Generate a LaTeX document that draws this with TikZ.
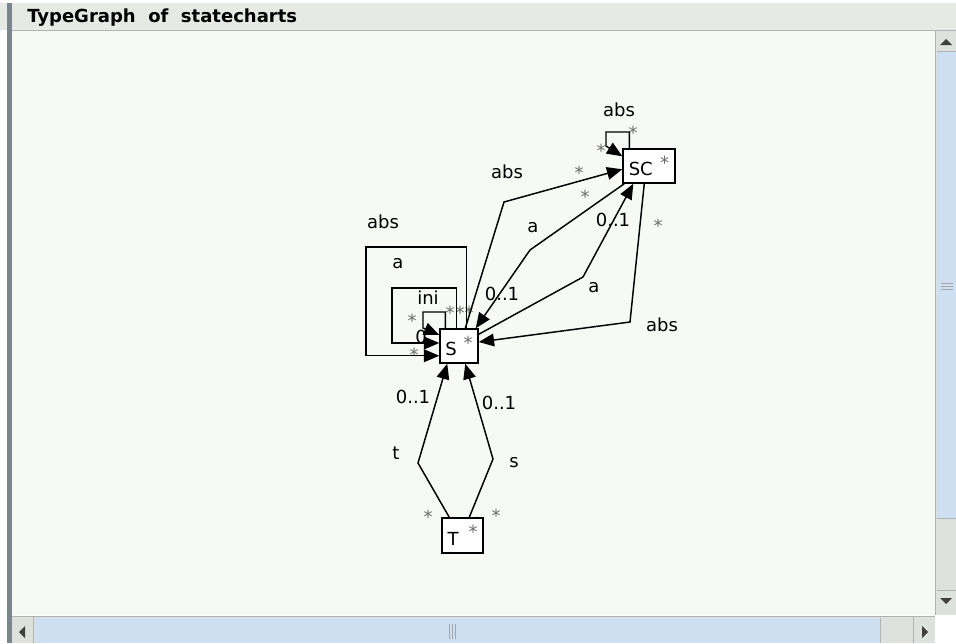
\documentclass[tikz,border=0pt]{standalone}
\usepackage{fontspec}
\setmainfont{DejaVu Sans}
\usetikzlibrary{arrows.meta,calc}
\definecolor{canvas}{HTML}{F7F9F5}
\definecolor{barbg}{HTML}{E6E9E4}
\definecolor{frameln}{HTML}{7B858E}
\definecolor{thumb}{HTML}{CDDFF0}
\definecolor{track}{HTML}{DDE2DF}
\definecolor{mult}{HTML}{6A6A6A}
\newcommand{\clsname}[2]{#1\hspace{#2}\raisebox{5pt}{\textcolor{mult}{*}}}

\begin{document}
\begin{tikzpicture}[x=0.75pt, y=-0.75pt, >={Triangle[length=11.5pt,width=9.5pt]},
  font=\fontsize{13.5}{16}\selectfont,
  cls/.style={draw, line width=1.1pt, fill=white, inner sep=0pt, minimum height=25.5pt},
  edge/.style={->, line width=1.1pt},
  lab/.style={inner sep=0pt},
  mul/.style={inner sep=0pt, text=mult, yshift=-2.8pt},
  chrome/.style={draw=gray!60, line width=0.6pt}]
\useasboundingbox (0,0) rectangle (956,643);

% window frame
\fill[white] (0,0) rectangle (956,643);
\fill[barbg] (0,3) rectangle (956,30);
\fill[canvas] (12,31) rectangle (935,615);
\draw[chrome] (12,30.5) -- (956,30.5);
\fill[frameln] (7,3) rectangle (11.5,643);
\node[font=\bfseries\fontsize{13.5}{16}\selectfont, anchor=base west, inner sep=0pt] (title) at (27,22) {TypeGraph\ \ of\ \ statecharts};

% scroll bars
\fill[track] (935,31) rectangle (956,615);
\draw[chrome] (935,31) -- (935,615);
\fill[thumb] (937,51) rectangle (956,518);
\draw[chrome] (937,51) -- (956,51) (937,518) -- (956,518) (937,590) -- (956,590);
\draw[gray!70] (941,283) -- (953,283) (941,286) -- (953,286) (941,289) -- (953,289);
\fill[black!75] (940,45) -- (952,45) -- (946,39) -- cycle;
\fill[black!75] (940,598) -- (952,598) -- (946,604) -- cycle;
\fill[track] (12,616) rectangle (935,643);
\draw[chrome] (12,616) -- (935,616);
\fill[thumb] (35,618) rectangle (880,643);
\draw[chrome] (33,616) -- (33,643) (880,618) -- (880,643) (913,616) -- (913,643);
\draw[gray!70] (449,624) -- (449,639) (452,624) -- (452,639) (455,624) -- (455,639);
\fill[black!75] (25,626) -- (25,638) -- (19,632) -- cycle;
\fill[black!75] (922,626) -- (922,638) -- (928,632) -- cycle;

% classes
\node[cls, minimum width=28.5pt] (S) at (459,346) {\clsname{S}{5pt}};
\node[cls, minimum width=39pt] (SC) at (649,166) {\clsname{SC}{5.6pt}};
\node[cls, minimum width=30.75pt, minimum height=26.25pt] (T) at (462.5,535.5) {\clsname{T}{7.5pt}};

% bend points
\coordinate (b1) at (504,202);
\coordinate (b2) at (530,250);
\coordinate (b3) at (583,277);
\coordinate (b4) at (630,322);
\coordinate (b5) at (418,463);
\coordinate (b6) at (493,459);

% edge labels
\node[lab] (l1) at (619,110) {abs};
\node[lab] (l2) at (507,172) {abs};
\node[lab] (l3) at (533,228) {a};
\node[lab] (l4) at (613,220) {0..1};
\node[lab] (l5) at (502,294) {0..1};
\node[lab] (l6) at (594,288) {a};
\node[lab] (l7) at (662,325) {abs};
\node[lab] (l8) at (383,222) {abs};
\node[lab] (l9) at (398,264) {a};
\node[lab] (l10) at (428,298) {ini};
\node[lab] (l11) at (421,337) {0};
\node[lab] (l12) at (413,397) {0..1};
\node[lab] (l13) at (396,453) {t};
\node[lab] (l14) at (499,403) {0..1};
\node[lab] (l15) at (514,463) {s};
\foreach \p [count=\i] in {(633,129),(601,147),(579,169),(585,193),(658,222),
    (450,309),(460,309),(469,309),(412,317),(414,351),(428,513),(496,512)}
  \node[mul] (m\i) at \p {*};

% edges around SC
\draw[edge] ($(SC.north west)+(7,0)$) |- (606,132) -- (606,146) -- ($(SC.north west)+(0,8)$);
\draw[edge] ($(S.north west)+(26,0)$) -- (b1) -- ($(SC.north west)+(0,21)$);
\draw[edge] ($(SC.south west)+(2,0)$) -- (b2) -- ($(S.north east)+(-3,0)$);
\draw[edge] ($(S.north east)+(0,6)$) -- (b3) -- ($(SC.south west)+(11,0)$);
\draw[edge] ($(SC.south west)+(22,0)$) -- (b4) -- ($(S.east)+(0,-4)$);

% loops on S
\draw[edge] ($(S.north west)+(27,0)$) |- (366,247) |- ($(S.south west)+(0,-8)$);
\draw[edge] ($(S.north west)+(17,0)$) |- (392,288) |- ($(S.west)+(0,-3)$);
\draw[edge] ($(S.north west)+(6,0)$) |- (423,312) -- (423,328) -- ($(S.west)+(0,-11)$);

% edges from T
\draw[edge] ($(T.north west)+(8,0)$) -- (b5) -- ($(S.south west)+(8,0)$);
\draw[edge] ($(T.north west)+(28,0)$) -- (b6) -- ($(S.south west)+(26,0)$);
\end{tikzpicture}
\end{document}
